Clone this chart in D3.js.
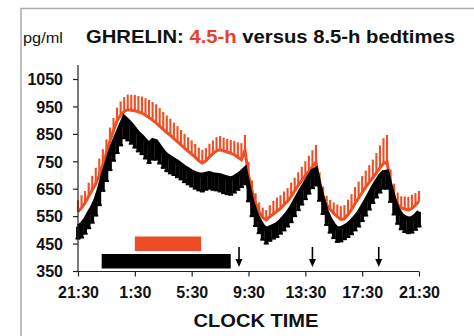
<!DOCTYPE html>
<meta charset="utf-8">
<html>
<head>
<style>
  body { margin: 0; background: #fff; }
  svg text { font-family: "Liberation Sans", Arial, sans-serif; }
  .axis path, .axis line { stroke: #222; stroke-width: 1.2; }
  .axis text { font-size: 16px; font-weight: bold; fill: #111; }
</style>
</head>
<body>
<svg width="474" height="336"></svg>
<script src="https://d3js.org/d3.v7.min.js"></script>
<script>

    // samples every 15 min, starting 21:30
    var startClock = "21:30";
    var stepMin = 15;

    // 4.5-h bedtime (red), mean and SEM (drawn upward)
    var shortMean = [566, 580, 598, 622, 645, 668, 700, 738, 780, 825, 862, 898,
                     918, 932, 938, 936, 934, 930, 926, 918, 910, 900, 890, 878,
                     866, 855, 845, 833, 822, 810, 798, 787, 776, 765, 752, 744,
                     752, 766, 778, 788, 792, 788, 784, 780, 774, 765, 756, 790,
                     700, 640, 598, 566, 545, 536, 548, 558, 568, 578, 592, 604,
                     622, 642, 662, 680, 698, 714, 730, 748, 660, 620, 592, 575,
                     560, 548, 538, 540, 556, 574, 596, 616, 636, 656, 674, 690,
                     708, 726, 742, 748, 660, 620, 592, 580, 576, 572, 578, 590, 604];
    var shortSem = [42, 46, 44, 50, 52, 58, 60, 56, 50, 48, 46, 48,
                    50, 52, 55, 56, 58, 58, 60, 62, 64, 66, 68, 66,
                    64, 62, 60, 58, 56, 54, 52, 50, 50, 48, 48, 48,
                    46, 48, 48, 50, 50, 48, 48, 48, 50, 54, 60, 56,
                    48, 40, 36, 34, 36, 36, 42, 48, 50, 48, 48, 48,
                    50, 48, 48, 50, 52, 56, 60, 62, 50, 38, 32, 34,
                    40, 44, 48, 50, 54, 56, 60, 60, 60, 60, 62, 66,
                    72, 82, 92, 98, 60, 48, 44, 42, 46, 48, 50, 44, 38];

    // 8.5-h bedtime (black), mean and SEM (drawn downward)
    var longMean = [512, 520, 536, 560, 582, 610, 650, 700, 740, 782, 818, 850,
                    880, 910, 898, 884, 868, 852, 840, 826, 812, 826, 822, 804,
                    786, 772, 764, 756, 748, 738, 728, 720, 712, 706, 702, 700,
                    704, 706, 702, 700, 698, 694, 690, 686, 692, 700, 710, 722,
                    660, 604, 564, 536, 514, 502, 508, 514, 520, 532, 546, 562,
                    580, 604, 628, 650, 672, 694, 714, 722, 662, 610, 566, 538,
                    518, 504, 506, 512, 520, 532, 546, 562, 584, 606, 630, 654,
                    676, 696, 710, 712, 660, 612, 576, 556, 546, 540, 542, 552, 566];
    var longSem = [44, 48, 50, 54, 56, 58, 60, 58, 62, 64, 66, 70,
                   72, 76, 72, 70, 68, 66, 64, 66, 68, 70, 66, 62,
                   60, 58, 58, 56, 56, 54, 54, 54, 54, 56, 58, 60,
                   58, 56, 56, 56, 58, 60, 60, 58, 56, 54, 54, 56,
                   56, 54, 50, 48, 50, 52, 48, 46, 46, 46, 48, 50,
                   52, 54, 56, 58, 60, 62, 62, 60, 56, 52, 48, 48,
                   48, 48, 48, 46, 46, 48, 48, 50, 52, 54, 56, 56,
                   58, 60, 60, 62, 58, 56, 54, 54, 54, 52, 52, 52, 54];

    // bedtime periods and meals
    var sleepStart = ["01:30", "23:10"];
    var sleepEnd = ["06:10", "08:15"];
    var sleepColor = ["#ee4b26", "#000"];
    var mealTimes = ["08:50", "14:00", "18:40"];

    var yTicks = [350, 450, 550, 650, 750, 850, 950, 1050];
    var xTicks = [0, 4, 8, 12, 16, 20, 24];

    var red = "#f04e23";

    var svg = d3.select("svg");

    function clockMin(clock) {
        var p = clock.split(":");
        return +p[0] * 60 + +p[1];
    }
    function toHours(clock) {
        var m = clockMin(clock) - clockMin(startClock);
        if (m < 0) m += 1440;
        return m / 60;
    }
    function clockLabel(h) {
        var m = (clockMin(startClock) + h * 60) % 1440;
        return Math.floor(m / 60) + ":" + d3.format("02")(m % 60);
    }

    var x = d3.scaleLinear().domain([0, 24]).range([78, 419]);
    var y = d3.scaleLinear().domain([350, 1050]).range([271, 79]);

    var hrs = shortMean.map(function(d, i) { return i * stepMin / 60; });

    // frame
    svg.append("path").attr("d", "M21,336V8.5H474")
        .attr("fill", "none").attr("stroke", "#aaa").attr("stroke-width", 1.5);

    // title
    svg.append("text").attr("x", 23).attr("y", 43).attr("font-size", 15)
        .attr("fill", "#111").attr("textLength", 40).attr("lengthAdjust", "spacingAndGlyphs")
        .text("pg/ml");
    var title = svg.append("text").attr("x", 86).attr("y", 43).attr("font-size", 18)
        .attr("font-weight", "bold").attr("fill", "#111")
        .attr("textLength", 369).attr("lengthAdjust", "spacingAndGlyphs");
    title.append("tspan").text("GHRELIN: ");
    title.append("tspan").attr("fill", "#e8402a").text("4.5-h");
    title.append("tspan").text(" versus 8.5-h bedtimes");

    // red series: SEM upward, then mean
    svg.append("g").selectAll("line").data(shortMean).enter().append("line")
        .attr("x1", function(d, i) { return x(hrs[i]); })
        .attr("x2", function(d, i) { return x(hrs[i]); })
        .attr("y1", function(d) { return y(d); })
        .attr("y2", function(d, i) { return y(d + shortSem[i]); })
        .attr("stroke", red).attr("stroke-width", 2.1);
    svg.append("path").datum(shortMean)
        .attr("fill", "none").attr("stroke", red).attr("stroke-width", 3)
        .attr("d", d3.line().x(function(d, i) { return x(hrs[i]); }).y(function(d) { return y(d); }));

    // black series: SEM downward, then mean
    svg.append("g").selectAll("line").data(longMean).enter().append("line")
        .attr("x1", function(d, i) { return x(hrs[i]); })
        .attr("x2", function(d, i) { return x(hrs[i]); })
        .attr("y1", function(d) { return y(d); })
        .attr("y2", function(d, i) { return y(d - longSem[i]); })
        .attr("stroke", "#000").attr("stroke-width", 3.8);
    svg.append("g").selectAll("line").data(longMean).enter().append("line")
        .attr("x1", function(d, i) { return x(hrs[i]) - 2.5; })
        .attr("x2", function(d, i) { return x(hrs[i]) + 2.5; })
        .attr("y1", function(d, i) { return y(d - longSem[i]); })
        .attr("y2", function(d, i) { return y(d - longSem[i]); })
        .attr("stroke", "#000").attr("stroke-width", 2);
    svg.append("path").datum(longMean)
        .attr("fill", "none").attr("stroke", "#000").attr("stroke-width", 4.5)
        .attr("d", d3.line().x(function(d, i) { return x(hrs[i]); }).y(function(d) { return y(d); }));

    // bedtime bars
    var barTop = [236.5, 254];
    svg.append("g").selectAll("rect").data(sleepStart).enter().append("rect")
        .attr("x", function(d) { return x(toHours(d)); })
        .attr("width", function(d, i) { return x(toHours(sleepEnd[i])) - x(toHours(d)); })
        .attr("y", function(d, i) { return barTop[i]; })
        .attr("height", 14.5)
        .attr("fill", function(d, i) { return sleepColor[i]; });

    // meal arrows
    var arrows = svg.append("g").selectAll("g").data(mealTimes).enter().append("g")
        .attr("transform", function(d) { return "translate(" + x(toHours(d)) + ",0)"; });
    arrows.append("line").attr("y1", 247).attr("y2", 262)
        .attr("stroke", "#000").attr("stroke-width", 1.6);
    arrows.append("path").attr("d", "M-3.5,259L3.5,259L0,267Z").attr("fill", "#000");

    // axes
    var yAxis = d3.axisLeft(y).tickValues(yTicks).tickSize(5).tickPadding(10)
        .tickFormat(d3.format("d"));
    var gy = svg.append("g").attr("class", "axis").attr("transform", "translate(78,0)").call(yAxis);
    gy.select(".domain").attr("d", "M0,65V271");
    gy.selectAll("text").attr("dy", "0.36em");

    var xAxis = d3.axisBottom(x).tickValues(xTicks).tickSize(5).tickPadding(10)
        .tickFormat(clockLabel);
    var gx = svg.append("g").attr("class", "axis").attr("transform", "translate(0,271.5)").call(xAxis);
    gx.select(".domain").attr("d", "M78,0H419");
    gx.selectAll("text").attr("font-size", 16.5);

    svg.append("text").attr("x", 256).attr("y", 327).attr("text-anchor", "middle")
        .attr("font-size", 19).attr("font-weight", "bold").attr("fill", "#111")
        .attr("textLength", 125).attr("lengthAdjust", "spacingAndGlyphs")
        .text("CLOCK TIME");
</script>
</body>
</html>
